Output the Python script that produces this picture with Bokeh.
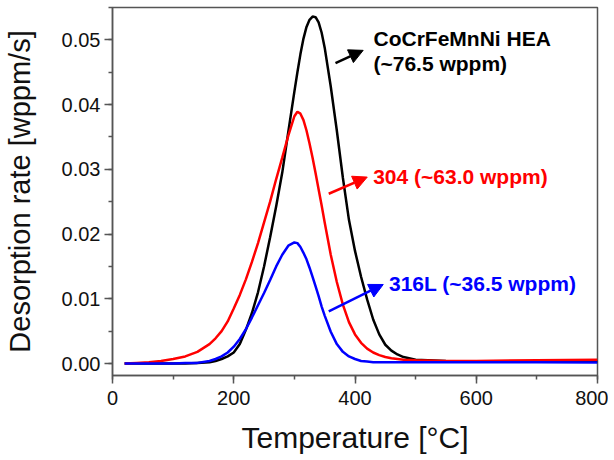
from bokeh.plotting import figure
from bokeh.models import Range1d, SingleIntervalTicker, NumeralTickFormatter, Arrow, NormalHead
from bokeh.core.properties import value
from bokeh.embed import file_html
from bokeh.resources import INLINE

temperature = [20, 40, 60, 80, 100, 120, 140, 160, 170, 180, 190, 200, 210, 220, 230, 240, 250,
               260, 270, 280, 290, 300, 305, 310, 315, 320, 325, 330, 335, 340, 345, 350, 360,
               370, 380, 390, 400, 410, 420, 430, 440, 450, 460, 470, 480, 500, 550, 600, 700, 800]

hea_rate = [0.0, 0.0, 0.0, 0.0, 0.0, 0.0, 0.0001, 0.0002, 0.0004, 0.0007, 0.0011, 0.0017, 0.0030,
            0.0052, 0.0078, 0.0110, 0.0150, 0.0195, 0.0243, 0.0295, 0.0358, 0.0420, 0.0450,
            0.0478, 0.0502, 0.0520, 0.0531, 0.0536, 0.0535, 0.0527, 0.0511, 0.0488, 0.0428,
            0.0360, 0.0287, 0.0222, 0.0174, 0.0134, 0.0099, 0.0068, 0.0045, 0.0029, 0.0020,
            0.0014, 0.0010, 0.0006, 0.0004, 0.0003, 0.0003, 0.0003]

ss304_rate = [0.0, 0.0001, 0.0002, 0.0004, 0.0007, 0.0011, 0.0018, 0.0030, 0.0039, 0.0050, 0.0065,
              0.0085, 0.0106, 0.0130, 0.0157, 0.0186, 0.0218, 0.0250, 0.0285, 0.0318, 0.0352,
              0.0382, 0.0389, 0.0386, 0.0376, 0.0360, 0.0340, 0.0318, 0.0294, 0.0269, 0.0244,
              0.0218, 0.0168, 0.0126, 0.0091, 0.0064, 0.0045, 0.0032, 0.0023, 0.0017, 0.0013,
              0.0010, 0.0008, 0.0007, 0.0006, 0.0005, 0.0004, 0.0004, 0.0005, 0.0006]

ss316l_rate = [0.0, 0.0, 0.0, 0.0, 0.0, 0.0001, 0.0001, 0.0004, 0.0007, 0.0011, 0.0017, 0.0026,
               0.0038, 0.0053, 0.0071, 0.0090, 0.0109, 0.0129, 0.0150, 0.0168, 0.0182, 0.0187,
               0.0186, 0.0180, 0.0171, 0.0161, 0.0148, 0.0134, 0.0119, 0.0104, 0.0088, 0.0074,
               0.0049, 0.0030, 0.0018, 0.0011, 0.0007, 0.0004, 0.0003, 0.0002, 0.0002, 0.0002,
               0.0002, 0.0002, 0.0002, 0.0002, 0.0002, 0.0002, 0.0002, 0.00015]

series = [
    ("CoCrFeMnNi HEA", hea_rate, "#000000"),
    ("304", ss304_rate, "#ff0000"),
    ("316L", ss316l_rate, "#0000ff"),
]

FONT = "Liberation Sans"
AX = "#555555"

p = figure(width=608, height=460, output_backend="svg", toolbar_location=None,
           x_range=Range1d(0, 800), y_range=Range1d(-0.00185, 0.055),
           min_border_left=112, min_border_right=11, min_border_top=7, min_border_bottom=85)
p.xgrid.visible = False
p.ygrid.visible = False
p.outline_line_color = AX
p.outline_line_width = 1.5

p.xaxis.ticker = SingleIntervalTicker(interval=200, num_minor_ticks=2)
p.yaxis.ticker = SingleIntervalTicker(interval=0.01, num_minor_ticks=2)
p.yaxis.formatter = NumeralTickFormatter(format="0.00")
p.xaxis.axis_label = "Temperature [°C]"
p.yaxis.axis_label = "Desorption rate [wppm/s]"

for ax in (p.xaxis, p.yaxis):
    ax.axis_line_color = AX
    ax.axis_line_width = 1.5
    ax.major_tick_line_color = AX
    ax.minor_tick_line_color = AX
    ax.major_tick_line_width = 1.5
    ax.minor_tick_line_width = 1.5
    ax.major_tick_in = 0
    ax.major_tick_out = 8
    ax.minor_tick_in = 0
    ax.minor_tick_out = 4
    ax.major_label_text_font = FONT
    ax.major_label_text_font_size = "20px"
    ax.major_label_text_color = "#111111"
    ax.axis_label_text_font = FONT
    ax.axis_label_text_font_style = "normal"
    ax.axis_label_text_color = "#111111"

p.xaxis.major_label_standoff = 7
p.yaxis.major_label_standoff = 4
p.xaxis.axis_label_text_font_size = "30px"
p.yaxis.axis_label_text_font_size = "29px"
p.xaxis.axis_label_standoff = 13
p.yaxis.axis_label_standoff = 23

for name, rate, color in series:
    p.line(temperature, rate, line_color=color, line_width=2.5)

# annotations
label_style = dict(text_font=value(FONT), text_font_size="21px", text_font_style="bold",
                   text_baseline="alphabetic", text_align="left")
p.text(x=[430.5], y=[0.0502], text=["CoCrFeMnNi HEA"], text_color="#000000", **label_style)
p.text(x=[430.5], y=[0.0464], text=["(~76.5 wppm)"], text_color="#000000", **label_style)
p.text(x=[430.0], y=[0.0289], text=["304 (~63.0 wppm)"], text_color="#ff0000", **label_style)
p.text(x=[456.0], y=[0.0124], text=["316L (~36.5 wppm)"], text_color="#0000ff", **label_style)

for (xs, ys, xe, ye, c) in [(367.8, 0.04641, 413.5, 0.04838, "#000000"),
                            (356.7, 0.02623, 420.2, 0.0288, "#ff0000"),
                            (356.7, 0.00804, 446.6, 0.01221, "#0000ff")]:
    p.add_layout(Arrow(x_start=xs, y_start=ys, x_end=xe, y_end=ye, line_color=c, line_width=2.5,
                       end=NormalHead(size=14, fill_color=c, line_color=c, line_width=1)))

open("out.html", "w").write(file_html(p, INLINE))
